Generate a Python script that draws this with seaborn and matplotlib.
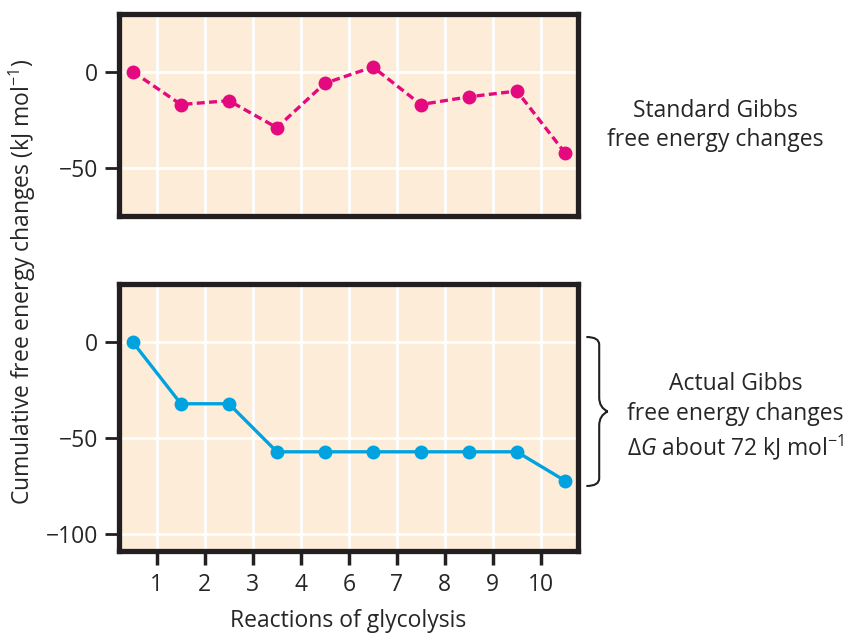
import matplotlib.pyplot as plt
import pandas as pd
import seaborn as sns
from matplotlib.path import Path
from matplotlib.patches import PathPatch

# reactions sit between the grid lines, labels skip 5 as in the source figure
positions = [0.5, 1.5, 2.5, 3.5, 4.5, 5.5, 6.5, 7.5, 8.5, 9.5]
standard_dg = [0, -17, -15, -29, -6, 2.5, -17, -13, -10, -42]
actual_dg = [0, -32, -32, -57, -57, -57, -57, -57, -57, -72]
tick_pos = [1, 2, 3, 4, 5, 6, 7, 8, 9]
tick_labels = ['1', '2', '3', '4', '6', '7', '8', '9', '10']

pink = '#e5097f'
blue = '#00a3e0'
face = '#fdecd8'
frame = '#231f20'

sns.set_style('white')
plt.rcParams['font.family'] = ['Open Sans', 'DejaVu Sans']
plt.rcParams['font.size'] = 16.5
plt.rcParams['mathtext.fontset'] = 'custom'
plt.rcParams['mathtext.rm'] = 'Open Sans'
plt.rcParams['mathtext.it'] = 'Open Sans:italic'

df_top = pd.DataFrame({'x': positions, 'y': standard_dg})
df_bot = pd.DataFrame({'x': positions, 'y': actual_dg})

fig = plt.figure(figsize=(8.56, 6.36), dpi=100)
ax1 = fig.add_axes([0.139, 0.660, 0.536, 0.318])
ax2 = fig.add_axes([0.139, 0.134, 0.536, 0.420])

sns.lineplot(data=df_top, x='x', y='y', ax=ax1, color=pink, lw=2.4,
             linestyle=(0, (2.4, 1.3)), marker='o', markersize=10,
             markeredgewidth=0)
sns.lineplot(data=df_bot, x='x', y='y', ax=ax2, color=blue, lw=2.4,
             marker='o', markersize=10, markeredgewidth=0)

for ax in [ax1, ax2]:
    ax.set_facecolor(face)
    ax.set_xlim(0.21, 9.77)
    ax.set_xticks(tick_pos)
    ax.grid(True, color='white', lw=2)
    ax.set_axisbelow(True)
    ax.set_xlabel('')
    ax.set_ylabel('')
    for s in ax.spines.values():
        s.set_visible(True)
        s.set_color(frame)
        s.set_linewidth(3.8)
    ax.tick_params(axis='y', direction='out', length=10, width=2, color=frame,
                   labelsize=16.5, pad=5, left=True)

ax1.set_ylim(-75, 30)
ax1.set_yticks([0, -50])
ax1.tick_params(axis='x', length=0, labelbottom=False)

ax2.set_ylim(-108.5, 30.5)
ax2.set_yticks([0, -50, -100])
ax2.set_xticklabels(tick_labels)
ax2.tick_params(axis='x', direction='out', length=10, width=2.5, color=frame,
                labelsize=16.5, pad=6, bottom=True)

ax2.set_xlabel('Reactions of glycolysis', fontsize=16.5, labelpad=9)
fig.text(0.026, 0.557, 'Cumulative free energy changes (kJ mol$^{-1}$)',
         rotation=90, ha='center', va='center', fontsize=16.5)

fig.text(0.836, 0.803, 'Standard Gibbs\nfree energy changes',
         ha='center', va='center', fontsize=16.5, linespacing=1.3)
fig.text(0.859, 0.344,
         'Actual Gibbs\nfree energy changes\n$\\Delta G$ about 72 kJ mol$^{-1}$',
         ha='center', va='center', fontsize=16.5, linespacing=1.3)

# curly brace next to the lower panel
x0, x1, xm = 0.685, 0.700, 0.710
yt, yb = 1 - 337 / 636, 1 - 486 / 636
ym = (yt + yb) / 2
verts = [(x0, yt), (x1, yt), (x1, yt - 0.012), (x1, ym + 0.022),
         (x1, ym + 0.006), (xm, ym), (xm, ym),
         (x1, ym - 0.006), (x1, ym - 0.022), (x1, yb + 0.012),
         (x1, yb), (x0, yb)]
codes = [Path.MOVETO, Path.CURVE3, Path.CURVE3, Path.LINETO,
         Path.CURVE3, Path.CURVE3, Path.MOVETO,
         Path.CURVE3, Path.CURVE3, Path.LINETO,
         Path.CURVE3, Path.CURVE3]
fig.add_artist(PathPatch(Path(verts, codes), transform=fig.transFigure,
                         fill=False, lw=1.5, color=frame))

fig.savefig('out.png', dpi=100)
